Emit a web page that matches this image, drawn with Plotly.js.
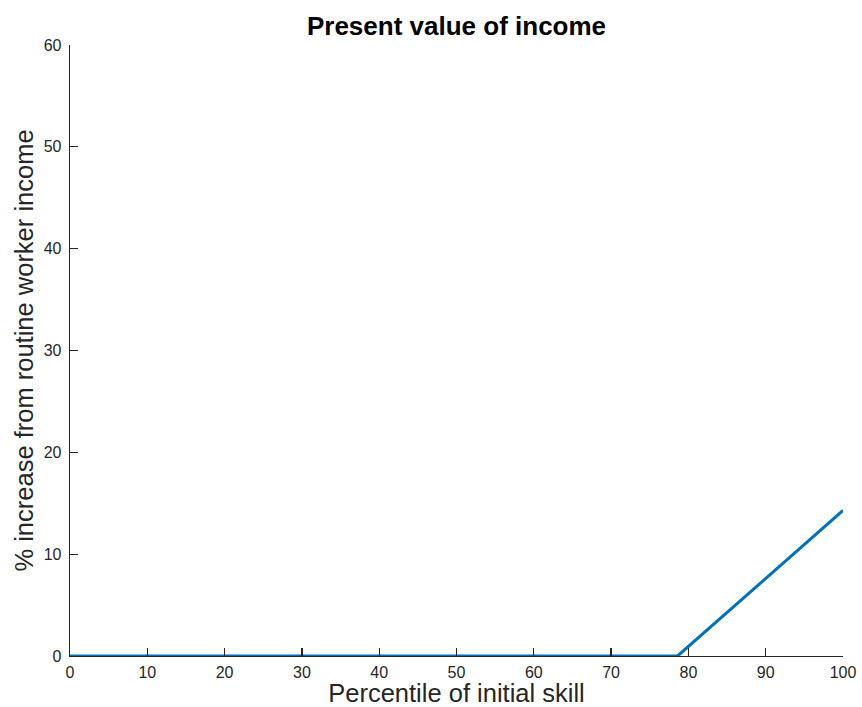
<!DOCTYPE html>
<html><head><meta charset="utf-8">
<script src="https://cdn.plot.ly/plotly-3.0.1.min.js"></script>
<style>html,body{margin:0;padding:0;background:#fff}</style>
</head><body>
<div id="chart" style="width:862px;height:707px"></div>
<script>
const percentile = [0, 78.6, 100];
const increase = [0, 0, 14.3];
const xTicks = [0,10,20,30,40,50,60,70,80,90,100];
const yTicks = [0,10,20,30,40,50,60];

const FONT = 'Liberation Sans, Arial, Helvetica, sans-serif';
const trace = {
  x: percentile, y: increase, mode: 'lines', type: 'scatter',
  line: {color: '#0072BD', width: 3}, hoverinfo: 'skip'
};
const axisCommon = {
  showgrid: false, zeroline: false, showline: true, linecolor: '#262626', linewidth: 1.3,
  ticks: 'inside', ticklen: 8, tickwidth: 1.3, tickcolor: '#262626',
  tickfont: {family: FONT, size: 16, color: '#262626'},
  mirror: false
};
const layout = {
  width: 862, height: 707,
  margin: {l: 70, r: 19, t: 45, b: 51},
  paper_bgcolor: '#fff', plot_bgcolor: '#fff',
  showlegend: false,
  title: {text: '<b>Present value of income</b>', x: 0.5296, xanchor: 'center', y: 0.963, yanchor: 'middle',
          font: {family: FONT, size: 26, color: '#000'}},
  xaxis: Object.assign({}, axisCommon, {
    range: [0, 100], tickvals: xTicks, ticktext: xTicks.map(String), ticklabelstandoff: 1,
    title: {text: 'Percentile of initial skill', standoff: 4,
            font: {family: FONT, size: 25.5, color: '#262626'}}
  }),
  yaxis: Object.assign({}, axisCommon, {
    range: [0, 60], tickvals: yTicks, ticktext: yTicks.map(String), ticklabelstandoff: 4,
    title: {text: '% increase from routine worker income', standoff: 2,
            font: {family: FONT, size: 25.5, color: '#262626'}}
  })
};
Plotly.newPlot('chart', [trace], layout, {displayModeBar: false, staticPlot: true});
</script>
</body></html>
